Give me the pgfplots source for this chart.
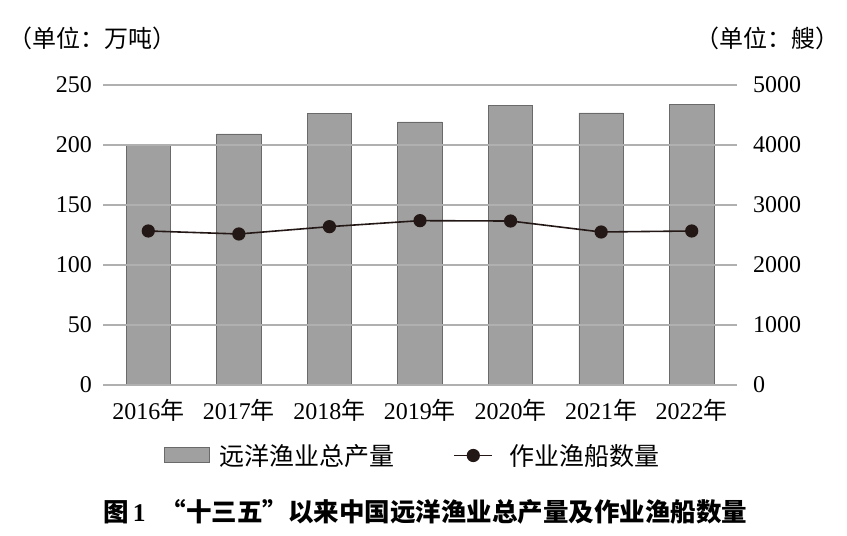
\documentclass[border=0pt]{standalone}
\usepackage{fontspec}
\setmainfont{Liberation Serif}
\newfontfamily\cjk{Noto Sans CJK SC}
\usepackage{pgfplots}
\pgfplotsset{compat=1.18}
\definecolor{bargray}{HTML}{A0A0A0}
\definecolor{baredge}{HTML}{6A6A6A}
\definecolor{gridgray}{HTML}{B0B0B0}
\definecolor{linec}{HTML}{231815}
\newcommand{\yr}[1]{{\rmfamily #1}{\cjk 年}}
\begin{document}
\begin{tikzpicture}[x=1pt,y=1pt]
\useasboundingbox (0,0) rectangle (847,536);
\begin{axis}[
  at={(103pt,151pt)}, anchor=south west,
  width=634pt, height=300pt, scale only axis,
  xmin=-0.5, xmax=6.5, ymin=0, ymax=250,
  ytick={0,50,...,250},
  xtick={0,...,6},
  xticklabels={\yr{2016},\yr{2017},\yr{2018},\yr{2019},\yr{2020},\yr{2021},\yr{2022}},
  axis line style={draw=none},
  major tick length=0pt,
  ymajorgrids, grid style={gridgray, line width=1.3pt},
  axis on top,
  /pgf/number format/assume math mode=true,
  tick label style={font=\fontsize{24}{24}\selectfont},
  yticklabel style={inner sep=0pt, xshift=-11pt},
  xticklabel style={inner sep=0pt, yshift=-14pt},
  legend style={at={(0.488,-0.235)}, anchor=center, draw=none, fill=none,
    legend columns=2, font=\fontsize{25}{25}\selectfont\cjk,
    /tikz/every odd column/.append style={column sep=8pt},
    /tikz/every even column/.append style={column sep=57pt},
    legend cell align=left, inner sep=0pt},
]
\addplot[ybar, bar width=0.49, fill=bargray, draw=baredge, line width=0.8pt,
  legend image code/.code={\draw[fill=bargray, draw=baredge, line width=0.8pt] (0pt,-7pt) rectangle (45pt,8pt);}]
  coordinates {(0,200.3) (1,209.2) (2,226.4) (3,219.2) (4,233.0) (5,226.7) (6,234.0)};
\addlegendentry{远洋渔业总产量}
\addlegendimage{linec, line width=1.6pt, mark=*, mark size=5.5pt,
  legend image code/.code={\draw[linec, line width=1.6pt] (0pt,0pt) -- (38pt,0pt); \fill[linec] (19pt,0pt) circle (5.8pt); \path (44pt,0pt);}}
\addlegendentry{作业渔船数量}
\draw[draw=black!75, line width=1.3pt] (axis cs:-0.5,0) -- (axis cs:6.5,0);
\end{axis}
\begin{axis}[
  at={(103pt,151pt)}, anchor=south west,
  width=634pt, height=300pt, scale only axis,
  xmin=-0.5, xmax=6.5, ymin=0, ymax=5000,
  ytick={0,1000,...,5000},
  xtick=\empty,
  yticklabel pos=right,
  axis line style={draw=none},
  major tick length=0pt,
  /pgf/number format/assume math mode=true,
  /pgf/number format/1000 sep={},
  tick label style={font=\fontsize{24}{24}\selectfont},
  yticklabel style={inner sep=0pt, xshift=16pt},
]
\addplot[linec, line width=1.6pt, mark=*, mark size=5.8pt]
  coordinates {(0,2567) (1,2517) (2,2639) (3,2739) (4,2733) (5,2550) (6,2567)};
\end{axis}
\node[anchor=west, inner sep=0pt, font=\fontsize{24}{24}\selectfont\cjk] at (8,498) {（单位：万吨）};
\node[anchor=east, inner sep=0pt, font=\fontsize{24}{24}\selectfont\cjk] at (840,498) {（单位：艘）};
\node[anchor=west, inner sep=0pt, font=\fontsize{25.5}{25.5}\selectfont\bfseries] at (103,24)
  {{\cjk 图}\,1\hspace{15pt}{\cjk “十三五”以来中国远洋渔业总产量及作业渔船数量}};
\end{tikzpicture}
\end{document}
